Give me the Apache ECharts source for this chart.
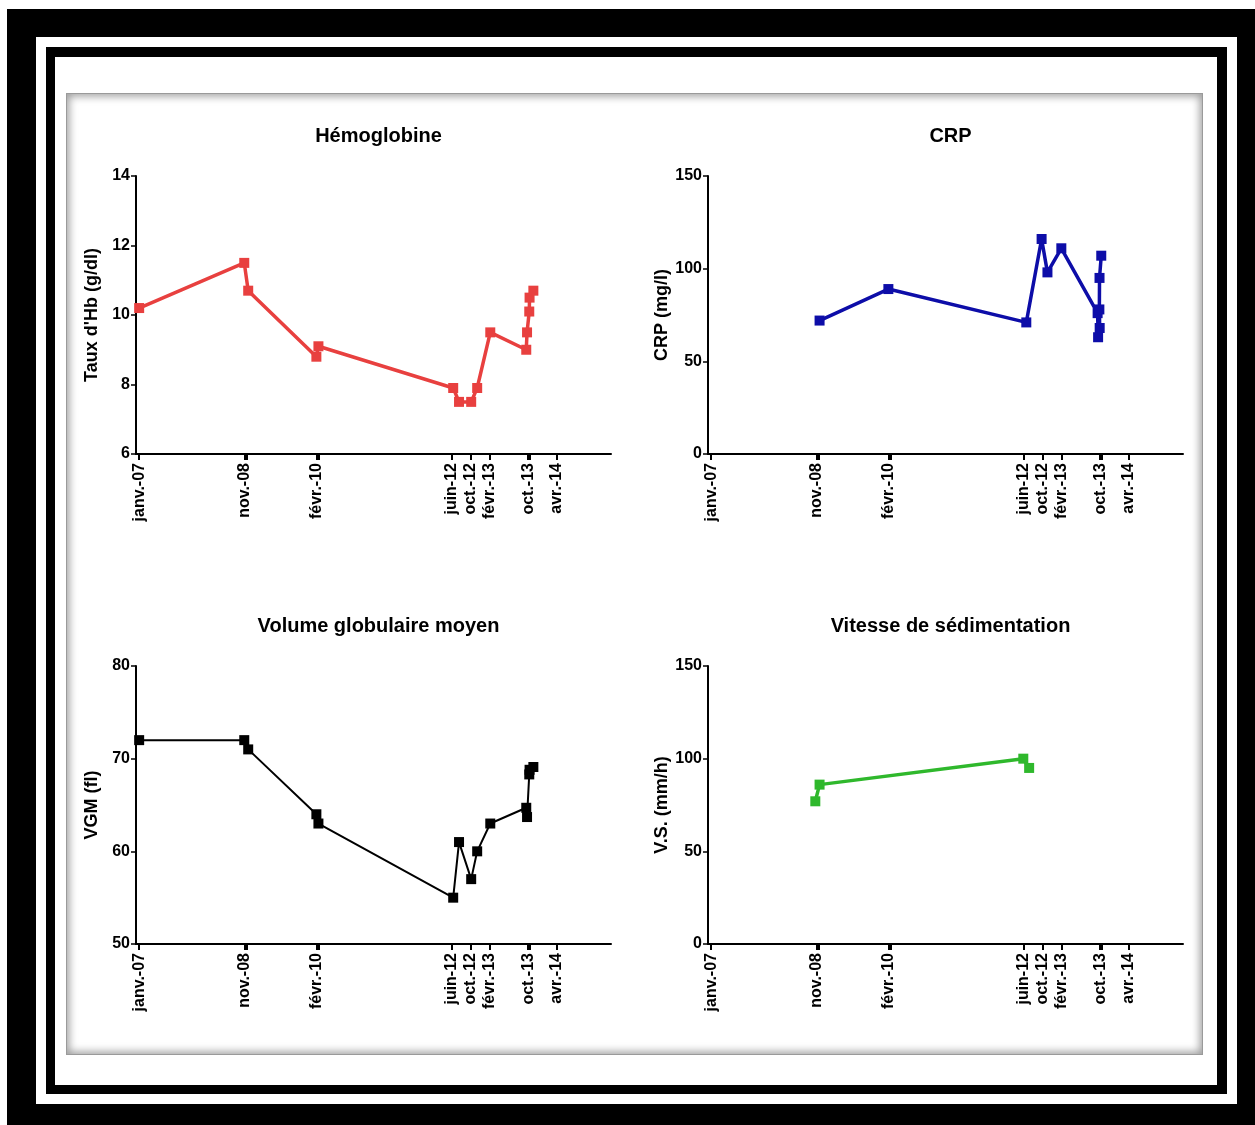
<!DOCTYPE html>
<html>
<head>
<meta charset="utf-8">
<script src="https://cdn.jsdelivr.net/npm/echarts@6/dist/echarts.min.js"></script>
<style>
  html, body { margin: 0; padding: 0; background: #fff; }
  .box { position: absolute; box-sizing: border-box; }
  #b1 { left: 7px; top: 9px; width: 1248px; height: 1116px; background: #000; }
  #b2 { left: 36px; top: 37px; width: 1201px; height: 1067px; background: #fff; }
  #b3 { left: 46px; top: 47px; width: 1181px; height: 1047px; background: #000; }
  #b4 { left: 55px; top: 57px; width: 1162px; height: 1028px; background: #fff; }
  #panel { left: 66px; top: 93px; width: 1137px; height: 962px; background: #fff;
           border: 1px solid #9a9a9a; box-shadow: inset 0 0 8px 2px rgba(0,0,0,0.4); }
  #chart { position: absolute; left: 0; top: 0; width: 1255px; height: 1125px; }
</style>
</head>
<body>
<div class="box" id="b1"></div>
<div class="box" id="b2"></div>
<div class="box" id="b3"></div>
<div class="box" id="b4"></div>
<div class="box" id="panel"></div>
<div id="chart"></div>
<script>
// tick labels of the date axes
var tickLabels = ["janv.-07", "nov.-08", "févr.-10", "juin-12", "oct.-12", "févr.-13", "oct.-13", "avr.-14"];
var tickDates = ["2007-01-01", "2008-11-01", "2010-02-01", "2012-06-01", "2012-10-01", "2013-02-01", "2013-10-01", "2014-04-01"];
var extraTickDates = ["2008-11-12", "2010-02-12", "2013-10-12"];

// hemoglobine and VGM were measured on the same days
var hbDates = ["2007-01-01", "2008-10-28", "2008-11-22", "2010-01-28", "2010-02-10", "2012-06-13", "2012-07-20",
  "2012-10-05", "2012-11-12", "2013-02-03", "2013-09-19", "2013-09-24", "2013-10-08", "2013-10-10", "2013-11-03"];
var hbValues = [10.2, 11.5, 10.7, 8.8, 9.1, 7.9, 7.5, 7.5, 7.9, 9.5, 9.0, 9.5, 10.1, 10.5, 10.7];
var vgmValues = [72, 72, 71, 64, 63, 55, 61, 57, 60, 63, 64.7, 63.7, 68.3, 68.8, 69.1];

var crpDates = ["2008-11-18", "2010-01-28", "2012-06-20", "2012-09-25", "2012-11-01", "2013-01-28",
  "2013-09-15", "2013-09-18", "2013-09-28", "2013-09-26", "2013-09-27", "2013-10-08"];
var crpValues = [72, 89, 71, 116, 98, 111, 76, 63, 68, 78, 95, 107];

var vsDates = ["2008-10-22", "2008-11-18", "2012-06-01", "2012-07-08"];
var vsValues = [77, 86, 100, 95];

function ts(s) {
  var p = s.split("-");
  return Date.UTC(+p[0], +p[1] - 1, +p[2]);
}
function pairs(dates, values) {
  return dates.map(function (d, i) { return [ts(d), values[i]]; });
}

var tickTs = tickDates.map(ts);
var allTickTs = tickTs.concat(extraTickDates.map(ts));
var xMin = ts("2006-12-12");
var xMax = ts("2015-03-10");

var sans = "'Liberation Sans', Arial, sans-serif";

var panels = [
  { title: "Hémoglobine", name: "Taux d'Hb (g/dl)", min: 6, max: 14, step: 2, left: 136, top: 176,
    data: pairs(hbDates, hbValues), color: "#e8403f", width: 3.5 },
  { title: "CRP", name: "CRP (mg/l)", min: 0, max: 150, step: 50, left: 708, top: 176,
    data: pairs(crpDates, crpValues), color: "#0d0da8", width: 3.5 },
  { title: "Volume globulaire moyen", name: "VGM (fl)", min: 50, max: 80, step: 10, left: 136, top: 666,
    data: pairs(hbDates, vgmValues), color: "#000000", width: 2 },
  { title: "Vitesse de sédimentation", name: "V.S. (mm/h)", min: 0, max: 150, step: 50, left: 708, top: 666,
    data: pairs(vsDates, vsValues), color: "#2fb82c", width: 3.5 }
];

var option = {
  backgroundColor: "transparent",
  animation: false,
  title: [],
  grid: [],
  xAxis: [],
  yAxis: [],
  series: []
};

panels.forEach(function (p, i) {
  option.title.push({
    text: p.title,
    left: p.left + 237.5,
    top: p.top - 55,
    textAlign: "center",
    textStyle: { fontFamily: sans, fontWeight: "bold", fontSize: 20, color: "#000" }
  });
  option.grid.push({ left: p.left, top: p.top, width: 475, height: 278 });
  // dates are plotted on a value axis of timestamps, labelled at the chosen months
  option.xAxis.push({
    type: "value",
    gridIndex: i,
    min: xMin,
    max: xMax,
    splitLine: { show: false },
    axisLine: { onZero: false, lineStyle: { color: "#000", width: 2 } },
    axisTick: { show: true, length: 6, customValues: allTickTs, lineStyle: { color: "#000", width: 2 } },
    axisLabel: {
      customValues: tickTs,
      rotate: 90,
      margin: 9,
      color: "#000",
      fontFamily: sans,
      fontWeight: "bold",
      fontSize: 16,
      formatter: function (v, idx) {
        var k = tickTs.indexOf(v);
        return k >= 0 ? tickLabels[k] : (tickLabels[idx] || "");
      }
    }
  });
  option.yAxis.push({
    type: "value",
    gridIndex: i,
    min: p.min,
    max: p.max,
    interval: p.step,
    name: p.name,
    nameLocation: "middle",
    nameGap: 35,
    nameTextStyle: { fontFamily: sans, fontWeight: "bold", fontSize: 18, color: "#000" },
    splitLine: { show: false },
    axisLine: { show: true, onZero: false, lineStyle: { color: "#000", width: 2 } },
    axisTick: { show: true, length: 5, lineStyle: { color: "#000", width: 1.5 } },
    axisLabel: { margin: 6, color: "#000", fontFamily: sans, fontWeight: "bold", fontSize: 16 }
  });
  option.series.push({
    type: "line",
    xAxisIndex: i,
    yAxisIndex: i,
    data: p.data,
    symbol: "rect",
    symbolSize: 10,
    showSymbol: true,
    lineStyle: { color: p.color, width: p.width },
    itemStyle: { color: p.color }
  });
});

var myChart = echarts.init(document.getElementById("chart"));
myChart.setOption(option);
</script>
</body>
</html>
